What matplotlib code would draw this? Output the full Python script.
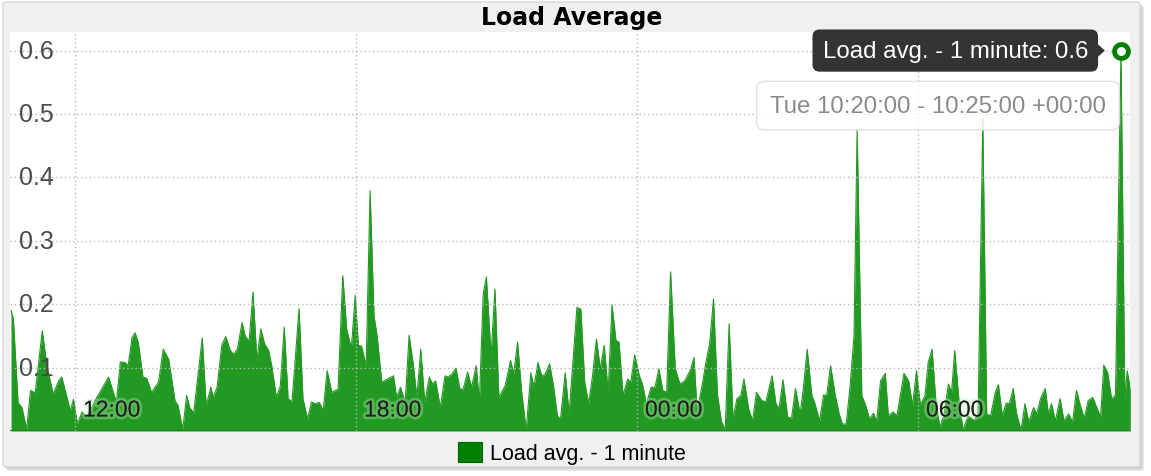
import matplotlib
matplotlib.use("Agg")
import matplotlib.pyplot as plt
import matplotlib.patheffects as pe
from matplotlib.patches import FancyBboxPatch, Patch, Polygon

# minutes relative to 12:00 (Mon)
minutes = [
    -82, -79, -73, -68, -62, -57, -51, -42, -36, -28, -21, -17, -6, -2, 3, 9, 15, 28, 43, 53,
    58, 64, 68, 73, 77, 81, 87, 92, 98, 107, 113, 120, 128, 132, 138, 143, 147, 152,
    163, 168, 174, 177, 182, 188, 193, 199, 203, 208, 214, 218, 223, 228, 233, 238, 243, 248,
    252, 258, 263, 268, 273, 278, 287, 292, 298, 303, 307, 313, 318, 323, 329, 337, 343, 348,
    354, 359, 363, 367, 373, 378, 383, 387, 393,
    408, 412, 417, 423, 428, 433, 438, 443, 448, 454, 458, 462, 468, 474, 478, 483, 488, 493,
    497, 503, 508, 514, 518, 523, 527, 533, 538, 543, 551, 558, 562, 567, 572, 578, 584, 588,
    593, 598, 602, 608, 613, 618, 622, 628, 633, 643, 648,
    653, 658, 663, 668, 673, 678, 683, 688, 693, 697, 702, 708, 712, 717, 723, 727, 732, 738,
    743, 748, 753, 758, 763, 769, 775, 781, 788, 793, 797, 803, 809, 813, 818, 823, 828, 833,
    838, 843, 848, 853, 857, 863, 868, 873, 880, 885,
    893, 898, 902, 907, 913, 918, 923, 929, 933, 938, 944, 948, 954, 959, 963, 968, 974, 979,
    983, 988, 993, 998, 1002, 1008, 1013, 1018, 1023, 1027, 1032, 1038, 1042, 1048, 1053, 1058,
    1062, 1068, 1073, 1078, 1083, 1089, 1093, 1098, 1103, 1108, 1113, 1119, 1123, 1127, 1133,
    1138, 1144, 1152, 1157, 1163, 1168, 1173, 1179, 1183, 1188, 1193, 1197, 1202, 1206, 1212,
    1217, 1222, 1228, 1232, 1237, 1243, 1247, 1251, 1256, 1262, 1267, 1273, 1278, 1283, 1288,
    1293, 1298, 1304, 1309, 1314, 1318, 1323, 1328, 1333, 1340, 1345, 1348, 1352,
]
load_1min = [
    0.19, 0.177, 0.045, 0.037, 0.003, 0.064, 0.06, 0.158, 0.103, 0.058, 0.079, 0.085, 0.032, 0.05, 0.011, 0.03, 0.022, 0.053, 0.085, 0.045,
    0.109, 0.108, 0.103, 0.147, 0.155, 0.14, 0.085, 0.083, 0.061, 0.077, 0.129, 0.113, 0.048, 0.04, 0.003, 0.056, 0.037, 0.028,
    0.147, 0.04, 0.069, 0.053, 0.069, 0.135, 0.149, 0.127, 0.121, 0.129, 0.171, 0.15, 0.141, 0.219, 0.111, 0.161, 0.137, 0.127,
    0.103, 0.053, 0.071, 0.164, 0.051, 0.046, 0.193, 0.051, 0.019, 0.046, 0.043, 0.045, 0.032, 0.095, 0.061, 0.066, 0.245, 0.161,
    0.13, 0.214, 0.135, 0.134, 0.103, 0.379, 0.182, 0.15, 0.077,
    0.087, 0.053, 0.069, 0.045, 0.151, 0.108, 0.053, 0.129, 0.045, 0.085, 0.074, 0.079, 0.037, 0.087, 0.085, 0.09, 0.099, 0.067,
    0.065, 0.093, 0.069, 0.103, 0.045, 0.217, 0.243, 0.119, 0.224, 0.053, 0.071, 0.111, 0.09, 0.14, 0.064, 0.001, 0.092, 0.069,
    0.108, 0.087, 0.089, 0.106, 0.071, 0.024, 0.019, 0.092, 0.027, 0.195, 0.192,
    0.077, 0.043, 0.087, 0.145, 0.098, 0.135, 0.061, 0.199, 0.143, 0.14, 0.056, 0.082, 0.077, 0.12, 0.087, 0.074, 0.043, 0.069,
    0.069, 0.098, 0.064, 0.061, 0.251, 0.098, 0.074, 0.079, 0.095, 0.116, 0.032, 0.069, 0.113, 0.137, 0.208, 0.058, 0.016, 0.001,
    0.169, 0.019, 0.051, 0.056, 0.082, 0.035, 0.016, 0.061, 0.048, 0.046,
    0.087, 0.043, 0.035, 0.081, 0.022, 0.02, 0.067, 0.027, 0.066, 0.129, 0.056, 0.043, 0.016, 0.057, 0.056, 0.103, 0.056, 0.027,
    0.011, 0.011, 0.071, 0.15, 0.476, 0.056, 0.04, 0.019, 0.028, 0.015, 0.079, 0.091, 0.024, 0.03, 0.024, 0.061,
    0.091, 0.079, 0.04, 0.095, 0.041, 0.056, 0.108, 0.129, 0.045, 0.006, 0.024, 0.074, 0.061, 0.127, 0.04,
    0.001, 0.024, 0.016, 0.027, 0.492, 0.027, 0.024, 0.061, 0.073, 0.024, 0.044, 0.043, 0.067, 0.029, 0.001,
    0.043, 0.014, 0.037, 0.027, 0.051, 0.067, 0.027, 0.043, 0.016, 0.051, 0.016, 0.027, 0.014, 0.064, 0.04,
    0.02, 0.048, 0.053, 0.037, 0.022, 0.104, 0.092, 0.051, 0.056, 0.6, 0.051, 0.095, 0.066,
]
x_ticks = [0, 360, 720, 1080]
x_tick_labels = ["12:00", "18:00", "00:00", "06:00"]
y_ticks = [0.1, 0.2, 0.3, 0.4, 0.5, 0.6]
series_name = "Load avg. - 1 minute"
hover_index = minutes.index(1340)
hover_label = "Tue 10:20:00 - 10:25:00 +00:00"

W, H = 1151, 477
fig = plt.figure(figsize=(W / 100, H / 100), dpi=100)
fig.patch.set_facecolor("white")


def fx(px):
    return px / W


def fy(py):
    return 1 - py / H


# grey panel with a soft shadow
for off, col in [(4, "#e4e4e4"), (2, "#d0d0d0")]:
    fig.patches.append(FancyBboxPatch((fx(3 + off), fy(468 + off)), fx(1137), 465 / H,
                                      boxstyle="round,pad=0,rounding_size=0.004",
                                      transform=fig.transFigure, fc=col, ec="none", zorder=-3))
fig.patches.append(FancyBboxPatch((fx(3), fy(468)), fx(1137), 465 / H,
                                  boxstyle="round,pad=0,rounding_size=0.004",
                                  transform=fig.transFigure, fc="#f0f0f0", ec="#d8d8d8",
                                  lw=1, zorder=-2))

fig.text(fx(572), fy(18), "Load Average", ha="center", va="center",
         fontsize=17, fontweight="bold", family="DejaVu Sans", color="black")

ax = fig.add_axes([fx(10), 1 - 432 / H, fx(1120), 399 / H])
ax.set_zorder(1)
ax.set_facecolor("white")
green = "#008000"
fill_green = "#229922"
ax.fill_between(minutes, load_1min, 0, color=fill_green, lw=0)
ax.plot(minutes, load_1min, color=fill_green, lw=0.8)
ax.axhline(0, color="#1b7f1b", lw=2)
ax.set_xlim(-83.3, 1351.6)
ax.set_ylim(0, 0.6293)
for s in ax.spines.values():
    s.set_visible(False)
ax.set_xticks(x_ticks)
ax.set_yticks(y_ticks)
ax.set_xticklabels([])
ax.set_yticklabels([])
ax.tick_params(length=0)
ax.grid(True, color="#b8b8b8", lw=1, linestyle=(0, (1, 2)))
ax.set_axisbelow(False)

glow = [pe.withStroke(linewidth=4, foreground=(0.75, 0.95, 0.75, 0.35))]
for t, lab in zip(x_ticks, x_tick_labels):
    ax.annotate(lab, xy=(t, 0), xycoords=("data", "axes fraction"),
                xytext=(8, 21), textcoords="offset pixels", ha="left", va="center",
                fontsize=16.5, family="Liberation Sans", color="#1e1e1e",
                path_effects=glow, zorder=5)
for v in y_ticks:
    ax.annotate(f"{v:.1f}", xy=(0, v), xycoords=("axes fraction", "data"),
                xytext=(9, 0), textcoords="offset pixels", ha="left", va="center",
                fontsize=18, family="Liberation Sans", color="#4a4a4a", zorder=5)

# hover marker and tooltips
hx, hy = minutes[hover_index], load_1min[hover_index]
ax.plot(hx, hy, "o", ms=10, mfc="white", mec=green, mew=3.5, zorder=7, clip_on=False)
ax.annotate(f"{series_name}: {hy:g}", xy=(hx, hy), xytext=(-33, 0),
            textcoords="offset pixels", ha="right", va="center",
            fontsize=17.3, family="Liberation Sans", color="white", zorder=8,
            bbox=dict(boxstyle="round,pad=0.42,rounding_size=0.3", fc="#333333", ec="none"))
px_hover = ax.transData.transform((hx, hy))
fig.patches.append(Polygon([(px_hover[0] - 16, px_hover[1]),
                            (px_hover[0] - 25, px_hover[1] + 8),
                            (px_hover[0] - 25, px_hover[1] - 8)],
                           closed=True, transform=None, fc="#333333", ec="none", zorder=9))
ax.annotate(hover_label, xy=(hx, hy), xytext=(-183, -55),
            textcoords="offset pixels", ha="center", va="center",
            fontsize=17.3, family="Liberation Sans", color="#8a8a8a", zorder=8,
            bbox=dict(boxstyle="round,pad=0.55,rounding_size=0.3",
                      fc=(1, 1, 1, 0.82), ec="#e2e2e2", lw=1))

handle = Patch(fc=green, ec="#006400", lw=0.8)
fig.legend([handle], [series_name], loc="center", bbox_to_anchor=(fx(572), fy(454)),
           frameon=False, handlelength=1.1, handleheight=1.1, handletextpad=0.4,
           prop={"family": "Liberation Sans", "size": 15.5})

fig.savefig("out.png", dpi=100)
